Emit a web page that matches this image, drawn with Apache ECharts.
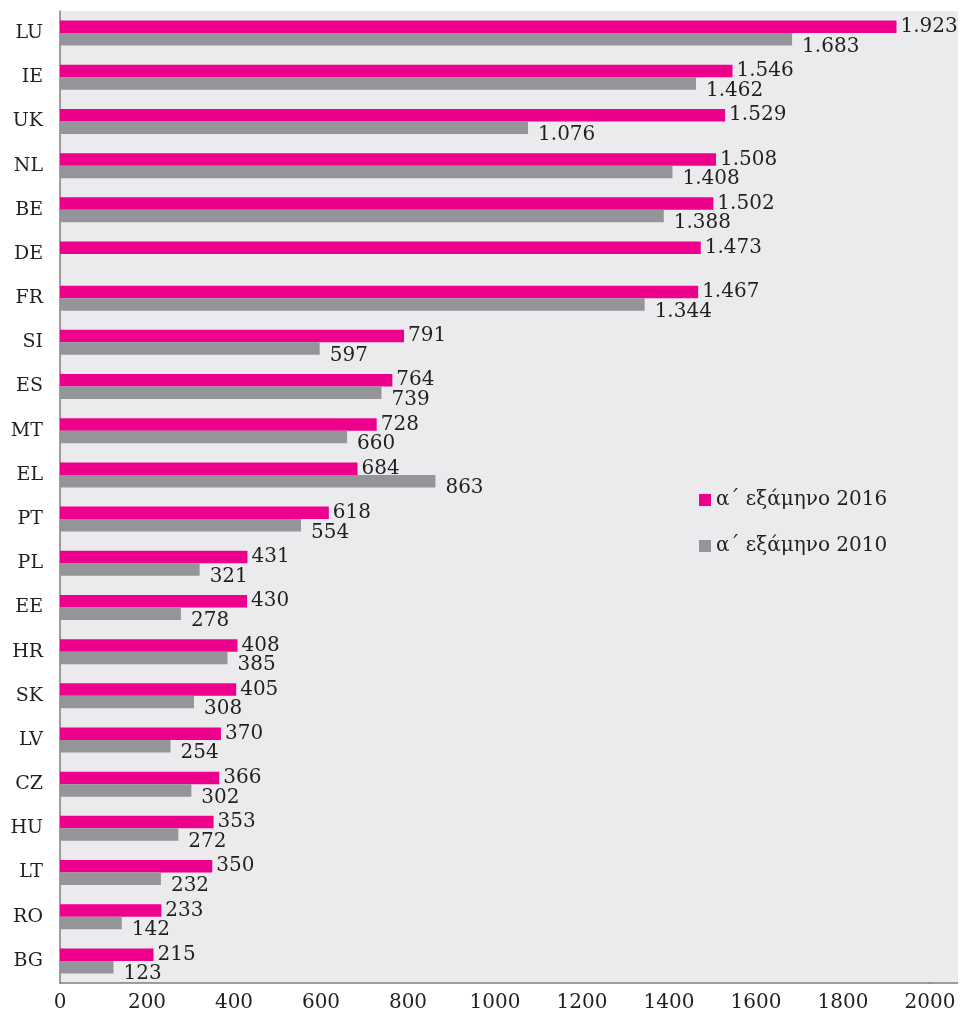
<!DOCTYPE html>
<html>
<head>
<meta charset="utf-8">
<script src="https://cdn.jsdelivr.net/npm/echarts@6/dist/echarts.min.js"></script>
<style>
  html, body { margin: 0; padding: 0; background: #fff; }
  #main { width: 960px; height: 1017px; }
</style>
</head>
<body>
<div id="main"></div>
<script>
// χώρες, από πάνω προς τα κάτω
var countries = ["LU", "IE", "UK", "NL", "BE", "DE", "FR", "SI", "ES", "MT", "EL",
    "PT", "PL", "EE", "HR", "SK", "LV", "CZ", "HU", "LT", "RO", "BG"];
var values2016 = [1923, 1546, 1529, 1508, 1502, 1473, 1467, 791, 764, 728, 684,
    618, 431, 430, 408, 405, 370, 366, 353, 350, 233, 215];
var values2010 = [1683, 1462, 1076, 1408, 1388, null, 1344, 597, 739, 660, 863,
    554, 321, 278, 385, 308, 254, 302, 272, 232, 142, 123];
var seriesNames = ["α΄ εξάμηνο 2016", "α΄ εξάμηνο 2010"];

var font = "DejaVu Serif";
var textColor = "#231f20";

// 1.923 αντί για 1923
function fmt(p) {
    var v = p.value;
    if (v >= 1000) {
        var s = String(v);
        return s.slice(0, s.length - 3) + "." + s.slice(s.length - 3);
    }
    return String(v);
}

var myChart = echarts.init(document.getElementById('main'));

var option = {
    animation: false,
    textStyle: { fontFamily: font },
    // γκρι φόντο της περιοχής σχεδίασης + συνέχεια του άξονα δεξιά
    graphic: {
        z: -1,
        elements: [{
            type: 'rect',
            z: -1,
            shape: { x: 60, y: 11, width: 898, height: 972 },
            style: { fill: '#ebebee' }
        }, {
            type: 'line',
            z: -1,
            shape: { x1: 929, y1: 983, x2: 958, y2: 983 },
            style: { stroke: '#7f7f7f', lineWidth: 1.5 }
        }]
    },
    grid: { left: 60, right: 30, top: 11, bottom: 34 },
    legend: {
        orient: 'vertical',
        left: 694,
        top: 485,
        itemWidth: 12,
        itemHeight: 12,
        itemGap: 26,
        icon: 'rect',
        textStyle: { fontFamily: font, fontSize: 20, color: textColor },
        data: seriesNames
    },
    xAxis: {
        type: 'value',
        min: 0,
        max: 2000,
        interval: 200,
        axisLine: { show: true, lineStyle: { color: '#7f7f7f', width: 1.5 } },
        axisTick: { show: false },
        splitLine: { show: false },
        axisLabel: {
            fontFamily: font, fontSize: 20, color: textColor, margin: 10,
            formatter: function (v) { return String(v); }
        }
    },
    yAxis: {
        type: 'category',
        inverse: true,
        data: countries,
        axisLine: { show: true, lineStyle: { color: '#7f7f7f', width: 1.5 } },
        axisTick: { show: false },
        axisLabel: { fontFamily: font, fontSize: 19, color: textColor, margin: 17 }
    },
    series: [{
        name: seriesNames[0],
        type: 'bar',
        data: values2016,
        barWidth: 12.5,
        barGap: '0%',
        itemStyle: { color: '#ec008c' },
        label: {
            show: true,
            position: 'right',
            distance: 4,
            fontFamily: font,
            fontSize: 20,
            color: textColor,
            formatter: fmt
        }
    }, {
        name: seriesNames[1],
        type: 'bar',
        data: values2010,
        barWidth: 12.5,
        itemStyle: { color: '#939598' },
        label: {
            show: true,
            position: 'right',
            distance: 4,
            offset: [6, 7],
            fontFamily: font,
            fontSize: 20,
            color: textColor,
            formatter: fmt
        }
    }]
};

myChart.setOption(option);
</script>
</body>
</html>
